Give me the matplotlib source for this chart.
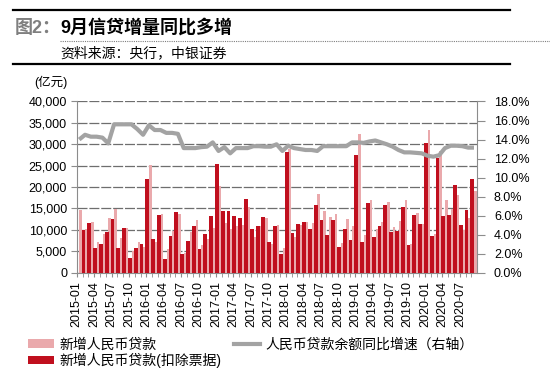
import numpy as np
import matplotlib
matplotlib.use("Agg")
import matplotlib.pyplot as plt
from matplotlib.lines import Line2D
from matplotlib.patches import Patch

plt.rcParams["font.family"] = ["Liberation Sans", "Noto Sans CJK SC", "DejaVu Sans"]

# months 2015-01 .. 2020-09
MONTHS = [f"{y}-{m:02d}" for y in range(2015, 2021) for m in range(1, 13)][:69]

# 新增人民币贷款 (亿元)
NEW_LOANS = [
    14700, 10200, 11800, 7079, 9008, 12800, 14800, 8096, 10500, 5136, 7089, 5978,
    25100, 7266, 13700, 5556, 9855, 13800, 4636, 9487, 12200, 6513, 7946, 10400,
    20300, 11700, 10200, 11000, 11100, 15400, 8255, 10900, 12700, 6632, 11200, 5844,
    29000, 8393, 11200, 11800, 11500, 18400, 14500, 13100, 13800, 6970, 12500, 10800,
    32300, 8858, 16900, 10200, 11800, 16600, 10600, 12100, 16900, 6613, 13900, 11400,
    33400, 9057, 28500, 17000, 14800, 18100, 9927, 12800, 19000,
]

# 新增人民币贷款(扣除票据) (亿元)
NEW_LOANS_EX_BILLS = [
    np.nan, 10000, 11700, 5800, 6800, 9400, 12500, 5700, 10400, 3400, 5700, 6700,
    21800, 7900, 13400, 3200, 8500, 14100, 4400, 7400, 11000, 5500, 9000, 13200,
    25300, 14300, 14300, 13200, 12800, 17300, 10100, 10800, 12900, 7100, 11000, 4400,
    28300, 9300, 11400, 11900, 10200, 15700, 12300, 8900, 12200, 6000, 10300, 7600,
    27600, 7200, 16200, 8400, 10800, 15900, 9400, 9800, 15400, 6500, 13400, 11400,
    30400, 8600, 26900, 13300, 13400, 20500, 11100, 14600, 22000,
]

# 人民币贷款余额同比增速 (%)
LOAN_GROWTH = [
    14.0, 14.5, 14.3, 14.3, 14.2, 13.6, 15.6, 15.6, 15.6, 15.6, 15.1, 14.5,
    15.5, 15.0, 15.0, 14.7, 14.7, 14.6, 13.1, 13.1, 13.1, 13.2, 13.25, 13.7,
    12.8, 13.2, 12.55, 13.1, 13.1, 13.1, 13.3, 13.3, 13.25, 13.25, 13.5, 12.8,
    13.35, 13.1, 13.0, 12.9, 12.9, 12.8, 13.3, 13.3, 13.3, 13.3, 13.3, 13.7,
    13.7, 13.65, 13.8, 13.9, 13.7, 13.5, 13.25, 12.9, 12.65, 12.65, 12.6, 12.55,
    12.3, 12.2, 12.35, 13.1, 13.35, 13.35, 13.3, 13.15, 13.15,
]

DARK_RED = "#C00F1E"
PINK = "#EAA9AC"
LINE_GRAY = "#A3A3A3"
AXIS_GRAY = "#8C8C8C"

x = np.arange(len(MONTHS))

fig = plt.figure(figsize=(5.5, 3.79), dpi=100)
ax = fig.add_axes([0.1395, 0.2805, 0.7283, 0.4517])

ax.bar(x + 0.68, NEW_LOANS, width=0.42, color=PINK, zorder=2)
ax.bar(x + 0.155, NEW_LOANS_EX_BILLS, width=0.66, color=DARK_RED, zorder=3)

ax.set_xlim(0, len(MONTHS))
ax.set_ylim(0, 40000)
ax.set_yticks(range(0, 40001, 5000))
ax.set_yticklabels([f"{v:,}" for v in range(0, 40001, 5000)], fontsize=9)
ax.set_xticks(x[::3])
ax.set_xticklabels(MONTHS[::3], rotation=90, fontsize=9)
ax.set_xticks(x, minor=True)
ax.tick_params(axis="x", which="both", length=3, color=AXIS_GRAY, pad=3)
ax.tick_params(axis="y", length=4, color=AXIS_GRAY, pad=3)
ax.grid(axis="y", color="#6E6E6E", linewidth=0.9, linestyle=(0, (8, 1.5)), zorder=0)
ax.set_axisbelow(True)
for side in ["top", "right"]:
    ax.spines[side].set_visible(False)
for side in ["left", "bottom"]:
    ax.spines[side].set_color(AXIS_GRAY)

ax2 = ax.twinx()
ax2.plot(x + 0.43, LOAN_GROWTH, color=LINE_GRAY, linewidth=3.0, solid_capstyle="butt", zorder=4)
ax2.set_ylim(0, 18)
ax2.set_yticks(range(0, 19, 2))
ax2.set_yticklabels([f"{v:.1f}%" for v in range(0, 19, 2)], fontsize=9)
ax2.tick_params(axis="y", length=6, color=AXIS_GRAY, pad=6)
for side in ["top", "left", "bottom"]:
    ax2.spines[side].set_visible(False)
ax2.spines["right"].set_color(AXIS_GRAY)

fig.text(0.062, 0.782, "(亿元)", fontsize=9, ha="left", va="center")

# header
fig.add_artist(Line2D([0.024, 0.927], [0.9736, 0.9736], color="black", linewidth=1.6))
fig.text(0.027, 0.926, "图2：", fontsize=13, color="#7F7F7F", fontweight="bold", va="center")
fig.text(0.109, 0.926, "9月信贷增量同比多增", fontsize=13, color="black", fontweight="bold", va="center")
fig.add_artist(Line2D([0.109, 1.0], [0.8918, 0.8918], color="#7F7F7F", linewidth=0.8, linestyle=(0, (1, 1))))
fig.text(0.109, 0.860, "资料来源：央行，中银证券", fontsize=10, color="black", va="center")
fig.add_artist(Line2D([0.024, 0.927], [0.8311, 0.8311], color="black", linewidth=1.6))

handles = [
    Patch(facecolor=PINK, edgecolor="none"),
    Patch(facecolor=DARK_RED, edgecolor="none"),
    Line2D([], [], color=LINE_GRAY, linewidth=3.0),
]
labels = ["新增人民币贷款", "新增人民币贷款(扣除票据)", "人民币贷款余额同比增速（右轴）"]
fig.legend(handles, labels, loc="upper left", bbox_to_anchor=(0.05, 0.11), ncol=2,
           frameon=False, fontsize=10, handlelength=1.9, handleheight=0.6,
           handletextpad=0.4, columnspacing=0.9, labelspacing=0.1, borderaxespad=0,
           borderpad=0)

fig.savefig("out.png", dpi=100)
